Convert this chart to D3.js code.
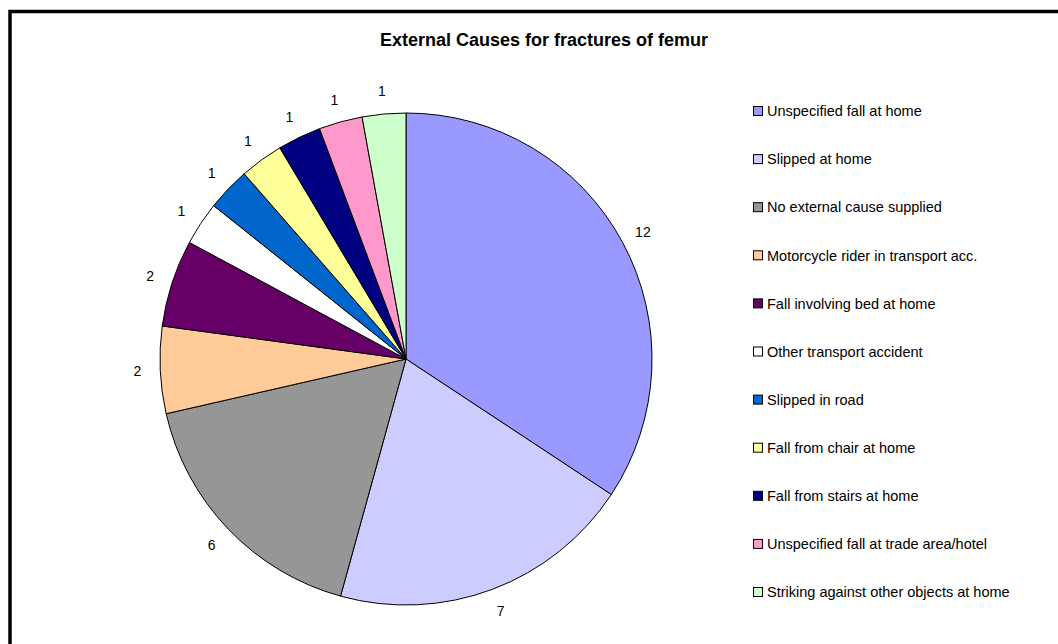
<!DOCTYPE html>
<html>
<head>
<meta charset="utf-8">
<script src="https://cdn.jsdelivr.net/npm/d3@7"></script>
<style>
  html, body { margin: 0; padding: 0; background: #fff; }
  svg { display: block; font-family: "Liberation Sans", Arial, sans-serif; }
</style>
</head>
<body>
<svg id="chart" width="1058" height="644"></svg>
<script>
// Causes, in the order the slices run clockwise from 12 o'clock
const causes = [
  "Unspecified fall at home",
  "Slipped at home",
  "No external cause supplied",
  "Motorcycle rider in transport acc.",
  "Fall involving bed at home",
  "Other transport accident",
  "Slipped in road",
  "Fall from chair at home",
  "Fall from stairs at home",
  "Unspecified fall at trade area/hotel",
  "Striking against other objects at home"
];
const counts = [12, 7, 6, 2, 2, 1, 1, 1, 1, 1, 1];
const fills = ["#9999ff", "#ccccff", "#969696", "#ffcc99", "#660066", "#ffffff",
               "#0066cc", "#ffff99", "#000080", "#ff99cc", "#ccffcc"];
const chartTitle = "External Causes for fractures of femur";

const svg = d3.select("#chart");

// Frame
svg.append("rect")
  .attr("x", 10).attr("y", 11.5)
  .attr("width", 1200).attr("height", 800)
  .attr("fill", "#fff")
  .attr("stroke", "#000")
  .attr("stroke-width", 3.5);

// Title
svg.append("text")
  .attr("x", 544).attr("y", 46)
  .attr("text-anchor", "middle")
  .attr("font-size", 18).attr("font-weight", "bold")
  .attr("fill", "#000")
  .text(chartTitle);

// Pie
const cx = 406, cy = 359, radius = 246, labelRadius = 269;
const data = causes.map((c, i) => ({ cause: c, value: counts[i], fill: fills[i] }));
const pie = d3.pie().value(d => d.value).sort(null);
const arcs = pie(data);
const arc = d3.arc().innerRadius(0).outerRadius(radius);
const labelArc = d3.arc().innerRadius(labelRadius).outerRadius(labelRadius);

const g = svg.append("g").attr("transform", `translate(${cx},${cy})`);
g.selectAll("path.slice")
  .data(arcs)
  .join("path")
  .attr("class", "slice")
  .attr("d", arc)
  .attr("fill", d => d.data.fill)
  .attr("stroke", "#000")
  .attr("stroke-width", 1)
  .attr("stroke-linejoin", "round");

g.selectAll("text.value")
  .data(arcs)
  .join("text")
  .attr("class", "value")
  .attr("transform", d => `translate(${labelArc.centroid(d)})`)
  .attr("text-anchor", "middle")
  .attr("dy", "0.36em")
  .attr("font-size", 14)
  .attr("fill", "#000")
  .text(d => d.data.value);

// Legend
const legendY = d3.scalePoint().domain(causes).range([111, 592]);
const legend = svg.append("g");
const items = legend.selectAll("g.item")
  .data(data)
  .join("g")
  .attr("class", "item")
  .attr("transform", d => `translate(753,${legendY(d.cause)})`);
items.append("rect")
  .attr("x", 0.5).attr("y", -4.5)
  .attr("width", 9).attr("height", 9)
  .attr("fill", d => d.fill)
  .attr("stroke", "#000")
  .attr("stroke-width", 1);
items.append("text")
  .attr("x", 14).attr("y", 0)
  .attr("dy", "0.36em")
  .attr("font-size", 14.5)
  .attr("fill", "#000")
  .text(d => d.cause);
</script>
</body>
</html>
